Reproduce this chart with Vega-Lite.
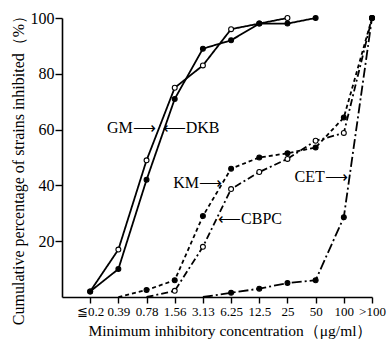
{
  "$schema": "https://vega.github.io/schema/vega-lite/v6.json",
  "width": 310,
  "height": 279,
  "autosize": "none",
  "padding": {"left": 62, "top": 18, "right": 19, "bottom": 42},
  "background": "white",
  "config": {
    "view": {"stroke": null},
    "font": "Liberation Serif",
    "axis": {"domainColor": "black", "tickColor": "black", "labelColor": "black", "titleColor": "black", "grid": false, "domainWidth": 1.6, "tickWidth": 1.4}
  },
  "datasets": {
    "curves": [
      {"drug": "GM", "mic": "≦0.2", "pct": 2},
      {"drug": "GM", "mic": "0.39", "pct": 17},
      {"drug": "GM", "mic": "0.78", "pct": 49},
      {"drug": "GM", "mic": "1.56", "pct": 75},
      {"drug": "GM", "mic": "3.13", "pct": 83},
      {"drug": "GM", "mic": "6.25", "pct": 96},
      {"drug": "GM", "mic": "12.5", "pct": 98},
      {"drug": "GM", "mic": "25", "pct": 100},
      {"drug": "DKB", "mic": "≦0.2", "pct": 2},
      {"drug": "DKB", "mic": "0.39", "pct": 10},
      {"drug": "DKB", "mic": "0.78", "pct": 42},
      {"drug": "DKB", "mic": "1.56", "pct": 71},
      {"drug": "DKB", "mic": "3.13", "pct": 89},
      {"drug": "DKB", "mic": "6.25", "pct": 92},
      {"drug": "DKB", "mic": "12.5", "pct": 98},
      {"drug": "DKB", "mic": "25", "pct": 98},
      {"drug": "DKB", "mic": "50", "pct": 100},
      {"drug": "KM", "mic": "0.39", "pct": 0},
      {"drug": "KM", "mic": "0.78", "pct": 2.5},
      {"drug": "KM", "mic": "1.56", "pct": 6},
      {"drug": "KM", "mic": "3.13", "pct": 29},
      {"drug": "KM", "mic": "6.25", "pct": 46},
      {"drug": "KM", "mic": "12.5", "pct": 50},
      {"drug": "KM", "mic": "25", "pct": 51.5},
      {"drug": "KM", "mic": "50", "pct": 53.6},
      {"drug": "KM", "mic": "100", "pct": 64.3},
      {"drug": "KM", "mic": ">100", "pct": 100},
      {"drug": "CBPC", "mic": "0.78", "pct": 0},
      {"drug": "CBPC", "mic": "1.56", "pct": 2.2},
      {"drug": "CBPC", "mic": "3.13", "pct": 18},
      {"drug": "CBPC", "mic": "6.25", "pct": 38.7},
      {"drug": "CBPC", "mic": "12.5", "pct": 44.8},
      {"drug": "CBPC", "mic": "25", "pct": 49.5},
      {"drug": "CBPC", "mic": "50", "pct": 56},
      {"drug": "CBPC", "mic": "100", "pct": 58.8},
      {"drug": "CBPC", "mic": ">100", "pct": 100},
      {"drug": "CET", "mic": "3.13", "pct": 0},
      {"drug": "CET", "mic": "6.25", "pct": 1.5},
      {"drug": "CET", "mic": "12.5", "pct": 3},
      {"drug": "CET", "mic": "25", "pct": 5},
      {"drug": "CET", "mic": "50", "pct": 6},
      {"drug": "CET", "mic": "100", "pct": 28.6},
      {"drug": "CET", "mic": ">100", "pct": 100}
    ]
  },
  "layer": [
    {
      "data": {"name": "curves"},
      "mark": {"type": "line", "color": "black", "strokeWidth": 1.8},
      "encoding": {
        "x": {
          "field": "mic", "type": "ordinal",
          "sort": ["≦0.2","0.39","0.78","1.56","3.13","6.25","12.5","25","50","100",">100"],
          "scale": {"type": "point", "domain": ["≦0.2","0.39","0.78","1.56","3.13","6.25","12.5","25","50","100",">100"], "padding": 0.5, "align": 1},
          "axis": {
            "title": "Minimum inhibitory concentration（μg/ml）",
            "labelAngle": 0, "labelFontSize": 13, "labelPadding": 2, "tickSize": 6, "labelOverlap": false,
            "titleFontSize": 15.5, "titleFontWeight": "normal", "titleX": 168, "titleY": 33, "titleBaseline": "middle"
          }
        },
        "y": {
          "field": "pct", "type": "quantitative",
          "scale": {"domain": [0, 100], "nice": false},
          "axis": {
            "title": "Cumulative percentage of strains inhibited（%）",
            "values": [20, 40, 60, 80, 100], "labelFontSize": 16, "tickSize": 7, "labelPadding": 1,
            "titleFontSize": 16, "titleFontWeight": "normal", "titleX": -44, "titleY": 148, "titleBaseline": "middle", "titleAlign": "center"
          }
        },
        "detail": {"field": "drug"},
        "strokeDash": {
          "field": "drug", "type": "nominal", "legend": null,
          "scale": {"domain": ["GM", "DKB", "KM", "CBPC", "CET"], "range": [[1, 0], [1, 0], [4, 3], [7, 3, 2, 3], [10, 3, 2, 3]]}
        }
      }
    },
    {
      "data": {"name": "curves"},
      "transform": [{"filter": "datum.pct > 0"}],
      "mark": {"type": "point", "shape": "circle", "size": 24, "stroke": "black", "strokeWidth": 1.1, "opacity": 1},
      "encoding": {
        "x": {"field": "mic", "type": "ordinal"},
        "y": {"field": "pct", "type": "quantitative"},
        "fill": {
          "field": "drug", "type": "nominal", "legend": null,
          "scale": {"domain": ["GM", "DKB", "KM", "CBPC", "CET"], "range": ["white", "black", "black", "white", "black"]}
        }
      }
    },
    {
      "data": {"values": [{"label": "GM⟶", "mic": "1.56", "pct": 60.6}]},
      "mark": {"type": "text", "align": "right", "baseline": "middle", "dx": -19, "fontSize": 16, "font": "Liberation Serif", "color": "black"},
      "encoding": {"x": {"field": "mic", "type": "ordinal"}, "y": {"field": "pct", "type": "quantitative"}, "text": {"field": "label"}}
    },
    {
      "data": {"values": [{"label": "⟵DKB", "mic": "1.56", "pct": 60.6}]},
      "mark": {"type": "text", "align": "left", "baseline": "middle", "dx": -12, "fontSize": 16, "font": "Liberation Serif", "color": "black"},
      "encoding": {"x": {"field": "mic", "type": "ordinal"}, "y": {"field": "pct", "type": "quantitative"}, "text": {"field": "label"}}
    },
    {
      "data": {"values": [{"label": "KM⟶", "mic": "6.25", "pct": 40.9}]},
      "mark": {"type": "text", "align": "right", "baseline": "middle", "dx": -9, "fontSize": 16, "font": "Liberation Serif", "color": "black"},
      "encoding": {"x": {"field": "mic", "type": "ordinal"}, "y": {"field": "pct", "type": "quantitative"}, "text": {"field": "label"}}
    },
    {
      "data": {"values": [{"label": "⟵CBPC", "mic": "6.25", "pct": 28}]},
      "mark": {"type": "text", "align": "left", "baseline": "middle", "dx": -13, "fontSize": 16, "font": "Liberation Serif", "color": "black"},
      "encoding": {"x": {"field": "mic", "type": "ordinal"}, "y": {"field": "pct", "type": "quantitative"}, "text": {"field": "label"}}
    },
    {
      "data": {"values": [{"label": "CET⟶", "mic": "100", "pct": 43}]},
      "mark": {"type": "text", "align": "right", "baseline": "middle", "dx": 4, "fontSize": 16, "font": "Liberation Serif", "color": "black"},
      "encoding": {"x": {"field": "mic", "type": "ordinal"}, "y": {"field": "pct", "type": "quantitative"}, "text": {"field": "label"}}
    }
  ]
}
